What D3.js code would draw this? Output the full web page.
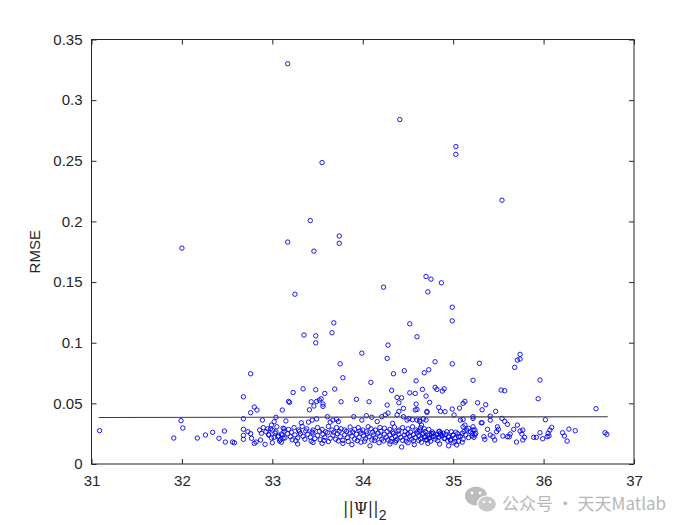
<!DOCTYPE html>
<html><head><meta charset="utf-8">
<script src="https://cdn.jsdelivr.net/npm/d3@7/dist/d3.min.js"></script>
<style>
body{margin:0;background:#fff}
svg{display:block}
text{font-family:"Liberation Sans",Arial,Helvetica,sans-serif}
</style>
</head><body>
<svg id="chart" width="700" height="525"></svg>
<script>
// ---------- data ----------
const xTickValues = [31, 32, 33, 34, 35, 36, 37];
const xTickLabels = ["31", "32", "33", "34", "35", "36", "37"];
const yTickValues = [0, 0.05, 0.1, 0.15, 0.2, 0.25, 0.3, 0.35];
const yTickLabels = ["0", "0.05", "0.1", "0.15", "0.2", "0.25", "0.3", "0.35"];

// scatter points: ||Psi||_2 (x) and RMSE (y)
const psiNorm = [
 33.17,32.00,34.41,35.03,35.03,33.55,35.54,33.42,33.74,33.74,33.17,33.46,34.23,34.70,34.755,34.87,34.72,33.25,34.99,34.99,
 33.68,34.52,33.35,33.48,33.66,34.60,33.48,34.28,33.99,34.27,33.75,34.99,34.80,34.46,35.29,34.34,34.68,34.73,33.78,34.59,
 35.22,34.09,33.34,33.48,33.69,33.23,33.58,34.32,34.52,34.58,34.80,34.82,34.88,34.90,34.66,34.70,33.18,33.19,33.43,33.49,
 33.52,33.54,33.56,33.46,33.76,33.93,34.07,34.27,34.38,34.43,34.40,34.45,34.40,34.59,34.60,34.58,34.71,34.74,34.84,34.86,
 33.11,33.41,33.56,34.99,35.07,35.11,35.13,35.27,34.91,34.71,35.01,
 35.68,35.71,35.74,35.74,35.53,35.57,35.96,35.94,35.36,35.32,35.47,36.58,35.41,35.54,35.57,35.60,36.02,35.22,35.31,35.71,
 35.67,35.63,35.49,35.50,35.48,35.38,35.74,35.77,35.76,35.79,35.77,35.70,35.89,35.92,35.96,35.99,36.04,36.05,36.07,36.09,
 36.06,36.21,36.23,36.26,36.28,36.35,36.68,36.70,35.22,35.24,35.25,35.21,35.23,35.34,35.35,35.41,35.44,35.46,35.55,35.60,35.62,
 31.09,31.99,32.01,31.91,32.17,32.26,32.34,32.41,32.47,32.48,32.56,32.58,32.76,32.68,32.76,32.80,32.83,32.68,32.89,33.04,
 33.02,32.68,32.68,32.68,32.73,32.76,32.77,32.82,32.86,32.88,32.87,32.92,32.93,32.96,32.98,32.99,33.02,33.07,33.10,33.12,33.13,
 33.15,33.32,33.40,33.44,33.49,33.61,33.64,33.67,33.71,33.73,33.90,33.99,34.04,34.10,34.16,34.21,34.25,34.28,34.33,34.38,
 34.45,34.49,34.51,34.55,34.60,34.63,34.67,34.70,
 32.90,32.95,33.00,33.05,33.12,33.18,33.24,33.29,33.33,33.38,33.45,33.50,33.55,33.62,33.66,33.71,33.76,33.80,33.86,33.91,
 33.95,34.00,34.06,34.09,34.14,34.19,34.24,34.30,34.35,34.40,34.44,34.50,34.55,34.59,34.64,34.68,34.73,
 32.96,32.99,33.03,33.06,33.09,33.11,33.14,33.17,33.20,33.22,33.25,33.28,33.31,33.34,33.36,33.39,33.42,33.45,33.47,33.50,
 33.53,33.56,33.58,33.61,33.64,33.67,33.70,33.72,33.75,33.78,33.80,33.83,33.86,33.88,33.91,33.93,33.96,33.98,34.01,34.03,
 34.05,34.07,34.10,34.12,34.14,34.17,34.19,34.21,34.24,34.26,34.28,34.30,34.32,34.34,34.36,34.38,34.40,34.42,34.44,34.46,
 34.48,34.50,34.52,34.54,34.56,34.58,34.60,34.62,34.64,34.66,34.68,34.70,34.72,34.74,34.76,34.78,34.80,34.82,34.84,34.86,
 34.88,34.90,34.92,34.95,34.97,35.00,35.02,35.05,35.08,35.11,35.14,35.17,
 32.80,33.00,33.10,33.28,33.45,33.55,33.62,33.78,33.88,33.98,34.08,34.18,34.30,34.36,34.43,34.50,34.57,34.65,34.72,34.85,
 34.95,35.00,35.10,
 34.63,34.65,34.63,34.67,34.69,34.71,34.73,34.74,34.78,34.80,34.84,34.86,34.89,34.91,34.95,34.97,34.98,35.00,35.02,35.04,
 35.06,35.10,35.11,35.13,35.15,35.17,35.19,35.21,35.22,35.24,35.08,35.11,35.22,35.32,35.41,
 33.04,33.13,33.21,33.30,33.37,33.44,33.52,33.59,33.68,33.74,33.82,33.89,33.97,34.04,34.11,34.20,34.27,34.33,34.39,34.47,
 34.53,34.61,34.69,34.77,34.85,34.93,35.03,35.12,
 33.08,33.26,33.43,33.57,33.73,33.84,33.94,34.02,34.13,34.23,34.31,34.37,34.48,34.56,34.62,34.75,34.83,34.94,35.06
];
const rmse = [
 0.330,0.178,0.284,0.2617,0.2553,0.2485,0.2175,0.2007,0.188,0.182,0.183,0.1755,0.1458,0.1546,0.1524,0.1494,0.1419,0.140,0.1293,0.118,
 0.1164,0.1156,0.1063,0.1057,0.1082,0.1049,0.0999,0.098,0.0914,0.0871,0.0826,0.0826,0.0843,0.0769,0.083,0.0744,0.0752,0.0777,0.0711,0.0686,
 0.069,0.0673,0.062,0.0612,0.0618,0.059,0.0582,0.0607,0.0587,0.0582,0.0632,0.0615,0.0601,0.062,0.0615,0.056,0.0516,0.0508,0.0513,0.0516,
 0.0527,0.0538,0.0494,0.0478,0.0513,0.0533,0.0513,0.0486,0.0549,0.0546,0.0505,0.0459,0.0434,0.0494,0.045,0.0445,0.0434,0.0508,0.0467,0.0434,
 0.0445,0.0447,0.0475,0.0453,0.0461,0.050,0.0516,0.0505,0.0431,0.0426,0.0404,
 0.0797,0.0857,0.0865,0.0904,0.061,0.0604,0.0692,0.0538,0.0489,0.0447,0.0434,0.0456,0.0395,0.0376,0.0352,0.0327,0.0365,0.0376,0.034,0.0321,
 0.0286,0.0247,0.0307,0.0286,0.0266,0.0286,0.0272,0.028,0.0247,0.022,0.0198,0.0181,0.022,0.022,0.0258,0.0208,0.0225,0.0253,0.028,0.0302,
 0.0231,0.0258,0.0231,0.0189,0.0288,0.0274,0.0258,0.0245,0.0307,0.028,0.0253,0.0231,0.022,0.0225,0.0203,0.0239,0.0225,0.0198,0.0231,0.0225,0.0225,
 0.0275,0.0357,0.0297,0.0214,0.0214,0.0239,0.0261,0.0212,0.0272,0.0181,0.0181,0.0175,0.0744,0.0554,0.0423,0.047,0.0445,0.0373,0.0362,0.0385,
 0.0348,0.0286,0.0236,0.0203,0.0266,0.025,0.0212,0.0181,0.028,0.0253,0.0198,0.0162,0.0266,0.0239,0.029,0.0321,0.022,0.0231,0.0247,0.0212,0.029,
 0.0355,0.0340,0.0345,0.0362,0.0372,0.0390,0.0345,0.0362,0.0368,0.0350,0.0390,0.0362,0.0398,0.0385,0.0350,0.0390,0.0405,0.0420,0.0335,0.0405,
 0.0390,0.0362,0.0375,0.0365,0.0362,0.0350,0.0372,0.0362,
 0.0300,0.0290,0.0280,0.0307,0.0295,0.0285,0.0300,0.0280,0.0310,0.0290,0.0280,0.0300,0.0285,0.0310,0.0280,0.0300,0.0290,0.0280,0.0305,0.0285,
 0.0300,0.0280,0.0307,0.0290,0.0280,0.0300,0.0295,0.0285,0.0305,0.0280,0.0300,0.0290,0.0307,0.0280,0.0300,0.0290,0.0285,
 0.0245,0.0215,0.0255,0.0225,0.0200,0.0240,0.0215,0.0250,0.0225,0.0200,0.0240,0.0215,0.0250,0.0228,0.0205,0.0245,0.0220,0.0255,0.0210,0.0235,
 0.0200,0.0245,0.0220,0.0258,0.0212,0.0238,0.0205,0.0250,0.0225,0.0195,0.0240,0.0218,0.0255,0.0230,0.0205,0.0245,0.0220,0.0255,0.0232,0.0208,
 0.0248,0.0225,0.0198,0.0240,0.0215,0.0255,0.0230,0.0205,0.0245,0.0222,0.0198,0.0238,0.0212,0.0252,0.0228,0.0205,0.0245,0.0220,0.0195,0.0238,
 0.0215,0.0250,0.0228,0.0205,0.0242,0.0218,0.0255,0.0232,0.0208,0.0245,0.0222,0.0200,0.0238,0.0215,0.0250,0.0228,0.0205,0.0242,0.0220,0.0255,
 0.0232,0.0210,0.0245,0.0222,0.0200,0.0238,0.0215,0.0250,0.0228,0.0205,0.0240,0.0218,
 0.0170,0.0175,0.0180,0.0165,0.0178,0.0170,0.0185,0.0170,0.0160,0.0180,0.0150,0.0175,0.0165,0.0180,0.0140,0.0175,0.0160,0.0180,0.0170,0.0165,
 0.0150,0.0175,0.0180,
 0.0362,0.0321,0.0280,0.0253,0.0225,0.0198,0.0212,0.0239,0.0253,0.0225,0.0266,0.0239,0.0253,0.0212,0.0225,0.0198,0.0266,0.0239,0.0184,0.0157,
 0.0225,0.0253,0.0307,0.0321,0.0280,0.0294,0.0266,0.0253,0.0280,0.0239,0.0362,0.0368,0.0390,0.0340,0.0362,
 0.0265,0.0270,0.0262,0.0268,0.0272,0.0264,0.0270,0.0266,0.0262,0.0270,0.0268,0.0264,0.0272,0.0266,0.0262,0.0270,0.0268,0.0264,0.0270,0.0266,
 0.0262,0.0270,0.0268,0.0264,0.0270,0.0266,0.0262,0.0268,
 0.0190,0.0192,0.0188,0.0194,0.0190,0.0186,0.0192,0.0188,0.0194,0.0190,0.0186,0.0192,0.0188,0.0190,0.0194,0.0188,0.0192,0.0190,0.0188
];

// reference (fit) line end points
const fitLineX = [31.08, 36.71];
const fitLineY = [0.0383, 0.0390];

const xLabelMain = "||Ψ||";
const xLabelSub = "2";
const yLabel = "RMSE";
const watermark = "公众号 · 天天Matlab";

// ---------- layout ----------
const svg = d3.select("#chart");
const L = 91.5, R = 634, T = 39.5, B = 464;
const axisColor = "#262626";

const x = d3.scaleLinear().domain([31, 37]).range([L, R]);
const y = d3.scaleLinear().domain([0, 0.35]).range([B, T]);

const pts = psiNorm.map((v, i) => ({x: v, y: rmse[i]}));

// points
svg.append("g").selectAll("circle").data(pts).join("circle")
  .attr("cx", d => x(d.x)).attr("cy", d => y(d.y)).attr("r", 2.2)
  .attr("fill", "none").attr("stroke", "#0000ee").attr("stroke-width", 0.9);

// fit line
svg.append("line")
  .attr("x1", x(fitLineX[0])).attr("y1", y(fitLineY[0]))
  .attr("x2", x(fitLineX[1])).attr("y2", y(fitLineY[1]))
  .attr("stroke", "#3a3a3a").attr("stroke-width", 1.1);

// axes (ticks inward on all four sides)
function styleAxis(g) {
  g.select(".domain").remove();
  g.selectAll(".tick line").attr("stroke", axisColor);
  g.selectAll(".tick text").attr("fill", axisColor)
    .style("font-size", "15px").style("font-family", '"Liberation Sans",Arial,sans-serif');
}
svg.append("g").attr("transform", `translate(0,${B})`)
  .call(d3.axisBottom(x).tickValues(xTickValues).tickFormat((d, i) => xTickLabels[i]).tickSize(-5).tickPadding(11))
  .call(styleAxis);
svg.append("g").attr("transform", `translate(0,${T})`)
  .call(d3.axisTop(x).tickValues(xTickValues).tickFormat("").tickSize(-5))
  .call(styleAxis);
svg.append("g").attr("transform", `translate(${L},0)`)
  .call(d3.axisLeft(y).tickValues(yTickValues).tickFormat((d, i) => yTickLabels[i]).tickSize(-5).tickPadding(9))
  .call(styleAxis);
svg.append("g").attr("transform", `translate(${R},0)`)
  .call(d3.axisRight(y).tickValues(yTickValues).tickFormat("").tickSize(-5))
  .call(styleAxis);

// box
svg.append("rect").attr("x", L).attr("y", T).attr("width", R - L).attr("height", B - T)
  .attr("fill", "none").attr("stroke", axisColor).attr("stroke-width", 1);

// axis titles
const xt = svg.append("text").attr("x", (L + R) / 2 + 2).attr("y", 514)
  .attr("text-anchor", "middle").attr("fill", axisColor)
  .style("font-size", "16px").style("font-family", '"DejaVu Serif","Liberation Serif",serif');
xt.append("tspan").text(xLabelMain);
xt.append("tspan").attr("dy", 6).style("font-size", "14px")
  .style("font-family", '"Liberation Sans",Arial,sans-serif').text(xLabelSub);

svg.append("text").attr("transform", `translate(40,${(T + B) / 2}) rotate(-90)`)
  .attr("text-anchor", "middle").attr("fill", axisColor)
  .style("font-size", "15px").text(yLabel);

// watermark
const wm = svg.append("g").attr("opacity", 0.9);
wm.append("ellipse").attr("cx", 476).attr("cy", 496).attr("rx", 11).attr("ry", 9.5).attr("fill", "#b5b5b5");
wm.append("ellipse").attr("cx", 487).attr("cy", 504).attr("rx", 9.5).attr("ry", 8.2).attr("fill", "#c4c4c4").attr("stroke", "#fff").attr("stroke-width", 1.2);
wm.append("circle").attr("cx", 472).attr("cy", 493).attr("r", 1.4).attr("fill", "#fff");
wm.append("circle").attr("cx", 480).attr("cy", 493).attr("r", 1.4).attr("fill", "#fff");
wm.append("circle").attr("cx", 484).attr("cy", 502).attr("r", 1.2).attr("fill", "#fff");
wm.append("circle").attr("cx", 490).attr("cy", 502).attr("r", 1.2).attr("fill", "#fff");
wm.append("text").attr("x", 502).attr("y", 510).attr("fill", "#b0b0b0")
  .style("font-size", "17px").style("font-family", '"Noto Sans CJK SC","Noto Sans",sans-serif')
  .text(watermark);
</script>
</body></html>
